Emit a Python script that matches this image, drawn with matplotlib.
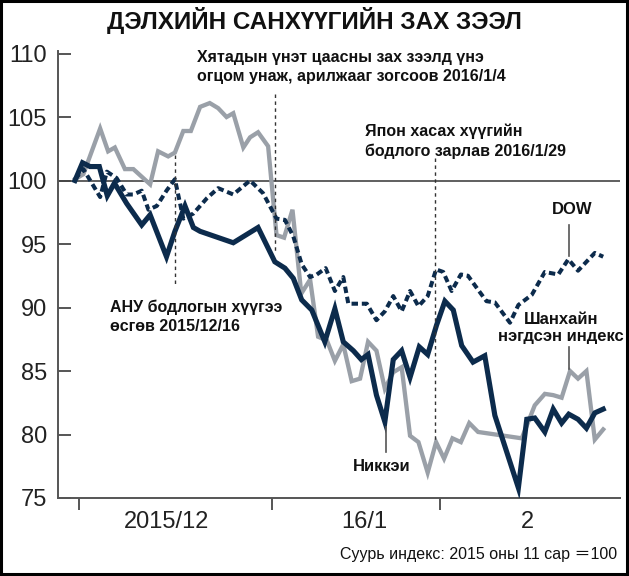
import matplotlib
matplotlib.use('Agg')
import matplotlib.pyplot as plt
from matplotlib import font_manager
from matplotlib.patches import Rectangle

# trading-day index on x, index value (2015/11 = 100) on y
NIKKEI_X = [0, 0.9, 1.8, 2.9, 3.85, 4.7, 6.15, 7.95, 8.95, 10.9, 11.9, 13.1, 14.1, 14.9,
            18.85, 21.8, 23.8, 25.0, 26.0, 27.0, 28.2, 29.75, 30.95, 31.95, 33.15, 34.1,
            34.9, 35.9, 36.9, 37.9, 38.9, 39.9, 41.0, 42.0, 43.05, 44.05, 45.05, 46.05,
            47.4, 48.8, 50.0, 52.8, 53.8, 54.75, 55.95, 56.95, 57.95, 58.8, 59.9, 60.9,
            61.9, 62.9]
NIKKEI_Y = [100.0, 101.4, 101.1, 101.1, 98.8, 99.8, 98.2, 96.5, 97.3, 94.0, 96.0, 98.0,
            96.3, 96.0, 95.1, 96.3, 93.6, 93.1, 92.3, 90.6, 89.8, 87.3, 89.9, 87.3, 86.6,
            85.9, 86.3, 83.1, 81.0, 85.9, 86.6, 84.5, 86.9, 86.3, 88.6, 90.5, 89.8, 87.0,
            85.7, 86.2, 81.5, 75.8, 81.2, 81.3, 80.2, 82.0, 80.9, 81.6, 81.2, 80.5, 81.7,
            82.0]

SHANGHAI_X = [0, 1.0, 2.0, 3.0, 3.95, 4.75, 5.95, 6.95, 8.95, 9.9, 11.1, 11.9, 12.9, 13.8,
              14.9, 16.05, 17.05, 18.05, 18.85, 20.05, 20.85, 21.8, 23.0, 24.0, 24.9,
              25.9, 26.95, 28.0, 28.95, 30.0, 30.95, 31.95, 32.95, 33.95, 34.9, 35.9,
              36.9, 37.9, 38.9, 39.9, 40.9, 42.0, 43.0, 43.95, 44.95, 45.95, 46.95, 48.0,
              53.2, 54.75, 55.95, 56.95, 57.95, 58.95, 59.9, 60.9, 61.9, 62.9]
SHANGHAI_Y = [100.1, 100.5, 102.3, 104.1, 102.3, 102.6, 100.9, 100.9, 99.7, 102.3, 101.9,
              102.2, 103.9, 103.9, 105.8, 106.1, 105.7, 105.0, 105.3, 102.6, 103.4, 103.8,
              102.7, 95.7, 95.5, 97.7, 91.1, 92.2, 87.7, 87.4, 85.8, 87.1, 84.2, 84.4, 87.3,
              86.6, 83.6, 84.9, 85.3, 79.9, 79.4, 77.0, 79.4, 78.1, 79.7, 79.4, 80.9, 80.2,
              79.7, 82.3, 83.2, 83.1, 82.9, 85.0, 84.4, 85.0, 79.6, 80.4]

DOW_X = [0, 1.0, 3.0, 3.8, 4.95, 6.15, 6.95, 7.95, 8.75, 9.75, 10.9, 11.9, 12.9, 14.1,
         15.7, 17.05, 18.85, 20.85, 22.4, 24.0, 25.0, 26.0, 27.0, 28.0, 28.8, 29.85,
         30.95, 31.95, 32.55, 34.75, 35.9, 36.9, 37.9, 38.9, 39.9, 40.9, 42.0, 43.0,
         43.85, 44.85, 45.95, 46.8, 48.0, 49.0, 50.0, 51.8, 52.8, 54.4, 55.95, 57.55,
         58.75, 59.9, 61.9, 62.9]
DOW_Y = [100.1, 100.9, 98.7, 100.7, 100.2, 98.9, 98.9, 99.2, 97.7, 98.0, 99.2, 100.1,
         97.0, 97.4, 98.6, 99.4, 98.9, 100.0, 99.0, 97.0, 96.9, 95.6, 93.4, 92.4, 92.6,
         93.1, 91.3, 92.4, 90.3, 90.3, 89.0, 89.7, 90.9, 89.7, 91.3, 90.1, 90.9, 93.0,
         92.8, 91.3, 92.6, 92.5, 91.4, 90.5, 90.4, 88.8, 90.2, 91.0, 92.8, 92.6, 93.8,
         92.9, 94.3, 94.0]

MONTH_TICKS  = [0.5, 23.45, 43.45]
MONTH_CENTER = [10.95, 34.5, 53.9]
MONTH_LABELS = ['2015/12', '16/1', '2']
Y_TICKS      = [75, 80, 85, 90, 95, 100, 105, 110]

NAVY = '#0c2b4c'
GRAY = '#9aa0a8'
INK  = '#111111'

names = {f.name for f in font_manager.fontManager.ttflist}
NARROW = 'Liberation Sans Narrow' if 'Liberation Sans Narrow' in names else 'Liberation Sans'
SANS = ['Liberation Sans', 'Noto Sans CJK JP', 'DejaVu Sans']
plt.rcParams['font.family'] = SANS

fig = plt.figure(figsize=(6.29, 5.76), dpi=100)
fig.patch.set_facecolor('white')
ax = fig.add_axes([58 / 629, 78 / 576, 562 / 629, 447 / 576])

ax.plot(SHANGHAI_X, SHANGHAI_Y, color=GRAY, lw=3.1, solid_joinstyle='miter', zorder=3)
ax.plot(DOW_X, DOW_Y, color=NAVY, lw=2.9, ls=(0, (1.6, 0.95)), zorder=4)
ax.plot(NIKKEI_X, NIKKEI_Y, color=NAVY, lw=3.7, solid_joinstyle='miter', zorder=5)

ax.axhline(100, color='#444444', lw=1.2, zorder=2)

ax.set_xlim(-2.02, 64.9)
ax.set_ylim(75, 110.2)

for sp in ['top', 'right']:
    ax.spines[sp].set_visible(False)
for sp in ['bottom', 'left']:
    ax.spines[sp].set_color('#555555')
    ax.spines[sp].set_linewidth(1.4)

ax.set_yticks(Y_TICKS)
ax.set_yticklabels([str(v) for v in Y_TICKS], fontfamily=NARROW, fontsize=17, color='#222222')
ax.tick_params(axis='y', direction='in', length=9.5, width=1.4, color='#555555', pad=8)

ax.set_xticks(MONTH_TICKS)
ax.set_xticklabels([])
ax.tick_params(axis='x', which='major', direction='out', length=8.5, width=1.4, color='#555555')
ax.set_xticks(MONTH_CENTER, minor=True)
ax.set_xticklabels(MONTH_LABELS, minor=True, fontfamily=NARROW, fontsize=17, color='#222222')
ax.tick_params(axis='x', which='minor', length=0, pad=9)

# event markers
dots = dict(color='#333333', lw=1.0, ls=(0, (2.5, 2.5)), zorder=6)
ax.plot([11.9, 11.9], [102.0, 91.7], **dots)
ax.plot([23.8, 23.8], [106.8, 94.3], **dots)
ax.plot([42.9, 42.9], [101.8, 79.6], **dots)

ax.text(14.5, 110.3, 'Хятадын үнэт цаасны зах зээлд үнэ\nогцом унаж, арилжааг зогсоов 2016/1/4',
        fontsize=11.5, fontweight='bold', color=INK, va='top', ha='left', linespacing=1.35)
ax.text(34.5, 104.5, 'Япон хасах хүүгийн\nбодлого зарлав 2016/1/29',
        fontsize=11.5, fontweight='bold', color=INK, va='top', ha='left', linespacing=1.35)
ax.text(4.2, 90.6, 'АНУ бодлогын хүүгээ\nөсгөв 2015/12/16',
        fontsize=11.5, fontweight='bold', color=INK, va='top', ha='left', linespacing=1.3)

# series labels
pointer = dict(color='#555555', lw=1.2, zorder=6)
ax.plot([58.8, 58.8], [96.5, 94.05], **pointer)
ax.plot([58.8, 58.8], [86.9, 85.15], **pointer)
ax.plot([37.0, 37.0], [80.6, 78.6], **pointer)
ax.text(59.2, 97.7, 'DOW', fontsize=12, fontweight='bold', color=INK, ha='center', va='center')
ax.text(57.9, 88.4, 'Шанхайн\nнэгдсэн индекс', fontsize=12, fontweight='bold', color=INK,
        ha='center', va='center', multialignment='center', linespacing=1.15)
ax.text(36.55, 77.45, 'Никкэи', fontsize=12, fontweight='bold', color=INK, ha='center', va='center')

fig.text(0.5, 1 - 21 / 576, 'ДЭЛХИЙН САНХҮҮГИЙН ЗАХ ЗЭЭЛ', fontsize=17.5, fontweight='bold',
         color=INK, ha='center', va='center')
fig.text(617 / 629, 1 - 555 / 576, 'Суурь индекс: 2015 оны 11 сар ＝100', fontsize=11.5,
         color=INK, ha='right', va='center')

fig.add_artist(Rectangle((0.002, 0.003), 0.995, 0.995, transform=fig.transFigure,
                         fill=False, edgecolor='black', lw=2.2))

fig.savefig('out.png', dpi=100, facecolor='white')
